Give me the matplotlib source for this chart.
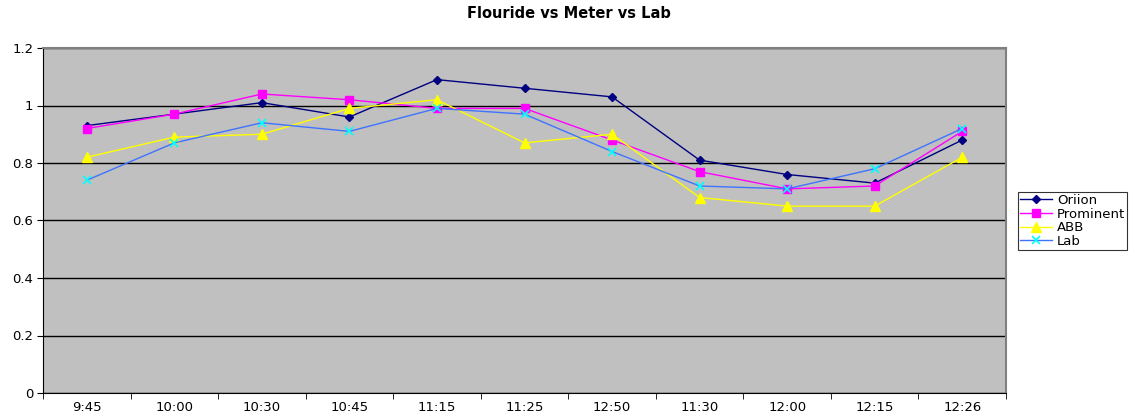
import matplotlib.pyplot as plt
import numpy as np

plt.rcParams['font.family'] = ['DejaVu Sans']

times = ['9:45', '10:00', '10:30', '10:45', '11:15', '11:25', '12:50',
         '11:30', '12:00', '12:15', '12:26']
oriion = [0.93, 0.97, 1.01, 0.96, 1.09, 1.06, 1.03, 0.81, 0.76, 0.73, 0.88]
prominent = [0.92, 0.97, 1.04, 1.02, 0.99, 0.99, 0.88, 0.77, 0.71, 0.72, 0.91]
abb = [0.82, 0.89, 0.90, 0.99, 1.02, 0.87, 0.90, 0.68, 0.65, 0.65, 0.82]
lab = [0.74, 0.87, 0.94, 0.91, 0.99, 0.97, 0.84, 0.72, 0.71, 0.78, 0.92]

x = np.arange(len(times))

fig = plt.figure(figsize=(11.38, 4.16), dpi=100)
ax = fig.add_axes([43/1138, 23/416, (1006-43)/1138, (393-48)/416])
ax.set_facecolor('#C0C0C0')

ax.plot(x, oriion, color='#000080', linewidth=1, marker='D', markersize=4.5, label='Oriion')
ax.plot(x, prominent, color='#FF00FF', linewidth=1, marker='s', markersize=6, label='Prominent')
ax.plot(x, abb, color='#FFFF00', linewidth=1, marker='^', markersize=7, label='ABB')
ax.plot(x, lab, color='#3F73FF', linewidth=1, marker='x', markersize=6,
        markeredgecolor='#00FFFF', markeredgewidth=1.2, label='Lab')

ax.set_xlim(-0.5, len(times) - 0.5)
ax.set_ylim(0, 1.2)
ax.set_yticks(np.arange(0, 1.21, 0.2))
ax.set_yticklabels(['0', '0.2', '0.4', '0.6', '0.8', '1', '1.2'])
ax.yaxis.grid(True, color='black', linewidth=1)
ax.set_axisbelow(True)

ax.set_xticks(x)
ax.set_xticklabels(times)
ax.set_xticks(np.arange(-0.5, len(times), 1), minor=True)
ax.tick_params(axis='x', which='major', length=0, pad=5.5)
ax.tick_params(axis='x', which='minor', length=4, direction='out')
ax.tick_params(axis='y', length=4, direction='out', pad=3)
ax.tick_params(labelsize=9.5)

for s in ['top', 'right']:
    ax.spines[s].set_color('#808080')
    ax.spines[s].set_linewidth(1.5)
for s in ['left', 'bottom']:
    ax.spines[s].set_color('black')

fig.text(0.5, 1 - 14/416, 'Flouride vs Meter vs Lab', ha='center', va='center',
         fontsize=10.5, fontweight='bold')

leg = ax.legend(loc='upper left', bbox_to_anchor=(1018/1138, 1 - 192/416),
                bbox_transform=fig.transFigure, fancybox=False, frameon=True,
                edgecolor='black', fontsize=9.5, handlelength=2.4,
                borderpad=0.15, labelspacing=0.05, handletextpad=0.4,
                borderaxespad=0)
leg.get_frame().set_linewidth(0.8)

fig.savefig('out.png', dpi=100)
